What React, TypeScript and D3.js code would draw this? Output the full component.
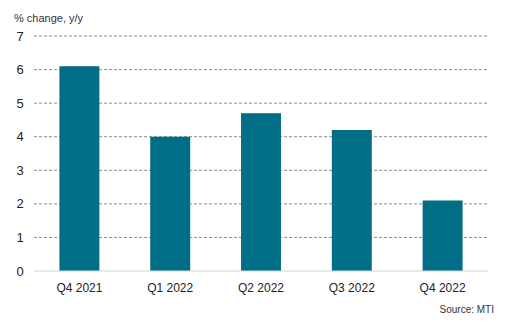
import React from "react";
import * as d3 from "d3";

const categories = ["Q4 2021", "Q1 2022", "Q2 2022", "Q3 2022", "Q4 2022"];
const values = [6.1, 4.0, 4.7, 4.2, 2.1];
const yTicks = [0, 1, 2, 3, 4, 5, 6, 7];

const W = 508, H = 323;
const m = { left: 34, right: 20, top: 36, bottom: 52 };

export default function App() {
  const x = d3.scaleBand<string>().domain(categories).range([m.left, W - m.right]).paddingInner(0.56).paddingOuter(0.28);
  const y = d3.scaleLinear().domain([0, 7]).range([H - m.bottom, m.top]);
  const font = "Liberation Sans, Arial, sans-serif";
  return (
    <svg width={W} height={H} style={{ position: "absolute", left: 0, top: 0, background: "#fff" }} fontFamily={font}>
      <text x={14} y={22} fontSize={11} fill="#333">% change, y/y</text>
      {yTicks.map((t) => (
        <g key={t}>
          {t > 0 && (
            <line x1={m.left} x2={W - m.right} y1={y(t)} y2={y(t)} stroke="#8c8c8c" strokeWidth={1} strokeDasharray="3,2" />
          )}
          <text x={20} y={y(t)} dy="0.35em" textAnchor="middle" fontSize={13} fill="#222">{t}</text>
        </g>
      ))}
      {categories.map((c, i) => (
        <rect key={c} x={x(c)} y={y(values[i])} width={x.bandwidth()} height={y(0) - y(values[i])} fill="#006e87" />
      ))}
      <line x1={m.left} x2={W - m.right} y1={y(0)} y2={y(0)} stroke="#d4d4d4" strokeWidth={1} />
      {categories.map((c) => (
        <text key={c} x={(x(c) as number) + x.bandwidth() / 2} y={292} textAnchor="middle" fontSize={12} fill="#222">{c}</text>
      ))}
      <text x={494} y={313} textAnchor="end" fontSize={10} fill="#333">Source: MTI</text>
    </svg>
  );
}
